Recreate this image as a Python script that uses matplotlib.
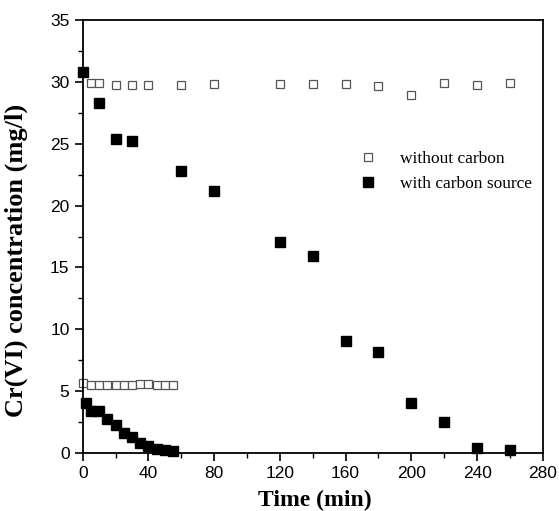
import matplotlib
matplotlib.use("Agg")
import matplotlib.pyplot as plt
from matplotlib.ticker import MultipleLocator

# Upper experiment (long run)
t_without_long = [5, 10, 20, 30, 40, 60, 80, 120, 140, 160, 180, 200, 220, 240, 260]
c_without_long = [29.93, 29.93, 29.8, 29.8, 29.8, 29.8, 29.88, 29.88, 29.82, 29.82, 29.72, 29.0, 29.9, 29.8, 29.95]
t_with_long = [0, 10, 20, 30, 60, 80, 120, 140, 160, 180, 200, 220, 240, 260]
c_with_long = [30.8, 28.3, 25.4, 25.2, 22.8, 21.2, 17.05, 15.94, 9.05, 8.14, 4.05, 2.46, 0.36, 0.22]

# Lower experiment (short run)
t_without_short = [0, 5, 10, 15, 20, 25, 30, 35, 40, 45, 50, 55]
c_without_short = [5.65, 5.5, 5.5, 5.5, 5.5, 5.48, 5.45, 5.6, 5.55, 5.5, 5.45, 5.45]
t_with_short = [2, 5, 10, 15, 20, 25, 30, 35, 40, 45, 50, 55]
c_with_short = [4.0, 3.4, 3.35, 2.73, 2.24, 1.57, 1.3, 0.81, 0.54, 0.3, 0.19, 0.14]

x_ticks = [0, 40, 80, 120, 160, 200, 240, 280]
y_ticks = [0, 5, 10, 15, 20, 25, 30, 35]

fig = plt.figure(figsize=(5.59, 5.11), dpi=100)
ax = fig.add_axes([0.148, 0.114, 0.823, 0.846])

hollow = dict(linestyle="none", marker="s", markersize=5.5, markerfacecolor="white",
              markeredgecolor="#555555", markeredgewidth=0.9, clip_on=False)
filled = dict(linestyle="none", marker="s", markersize=6.5, color="black", clip_on=False)

ax.plot(t_without_long, c_without_long, label="without carbon", **hollow)
ax.plot(t_without_short, c_without_short, **hollow)
ax.plot(t_with_long, c_with_long, label="with carbon source", **filled)
ax.plot(t_with_short, c_with_short, **filled)

ax.set_xlim(0, 280)
ax.set_ylim(0, 35)
ax.set_xticks(x_ticks)
ax.set_yticks(y_ticks)
ax.xaxis.set_minor_locator(MultipleLocator(20))
ax.yaxis.set_minor_locator(MultipleLocator(2.5))
ax.tick_params(which="major", direction="out", length=6, width=1.2, labelsize=12.5)
ax.tick_params(which="minor", direction="out", length=3.5, width=1.0)
for lbl in ax.get_xticklabels() + ax.get_yticklabels():
    lbl.set_family("Liberation Sans")
for s in ax.spines.values():
    s.set_linewidth(1.3)

ax.set_xlabel("Time (min)", family="Liberation Serif", fontweight="bold", fontsize=17)
ax.set_ylabel("Cr(VI) concentration (mg/l)", family="Liberation Serif", fontweight="bold", fontsize=19)
ax.xaxis.set_label_coords(0.505, -0.086)
ax.yaxis.set_label_coords(-0.119, 0.446)

leg = ax.legend(loc="upper left", bbox_to_anchor=(0.568, 0.715), frameon=False,
                prop={"family": "Liberation Serif", "size": 12.5},
                handletextpad=0.8, labelspacing=0.55, borderaxespad=0)

fig.savefig("out.png", dpi=100)
